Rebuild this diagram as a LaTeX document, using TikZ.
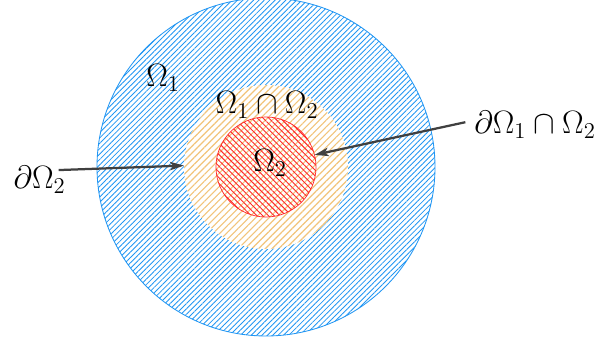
\RequirePackage{fix-cm}
\documentclass[tikz,border=0pt]{standalone}
\usetikzlibrary{patterns.meta,arrows.meta}
\definecolor{domainblue}{RGB}{33,150,243}
\definecolor{overlaporange}{RGB}{242,196,122}
\definecolor{domainred}{RGB}{255,40,40}
\definecolor{pointergray}{RGB}{64,64,64}
\tikzset{
  region/.style={circle, inner sep=0pt, outer sep=0pt},
  label/.style={inner sep=0pt, font=\fontsize{23}{28}\selectfont},
  pointer/.style={-{Stealth[length=10pt,width=6pt,inset=2.5pt]}, line width=1.6pt, draw=pointergray},
}
\begin{document}
\begin{tikzpicture}
\useasboundingbox (0,0) rectangle (15,8.625);
% outer domain
\node[region, minimum size=8.45cm, draw=domainblue, line width=0.6pt,
  pattern={Lines[angle=45,distance=2.7pt,line width=0.6pt]}, pattern color=domainblue] (omone) at (6.65,4.45) {};
% overlap zone
\node[region, minimum size=4.1cm, preaction={fill=white},
  pattern={Lines[angle=45,distance=3.4pt,line width=0.8pt]}, pattern color=overlaporange] (overlap) at (6.65,4.45) {};
% inner domain
\node[region, minimum size=2.5cm, draw=domainred, line width=0.5pt,
  pattern={Lines[angle=-45,distance=2.9pt,line width=0.65pt]}, pattern color=domainred] (omtwo) at (6.65,4.45) {};
% labels
\node[label] (lone) at (4.075,6.675) {$\Omega_1$};
\node[label] (lint) at (6.675,6.0) {$\Omega_1\cap\Omega_2$};
\node[label] (ltwo) at (6.75,4.55) {$\Omega_2$};
\node[label] (dtwo) at (0.99,4.125) {$\partial\Omega_2$};
\node[label] (dint) at (13.375,5.5) {$\partial\Omega_1\cap\Omega_2$};
% pointers
\draw[pointer] ([xshift=-0.18cm,yshift=-0.1cm]dtwo.north east) -- (overlap.179);
\draw[pointer] ([xshift=-0.22cm,yshift=0.07cm]dint.west) -- (omtwo.14);
\end{tikzpicture}
\end{document}
